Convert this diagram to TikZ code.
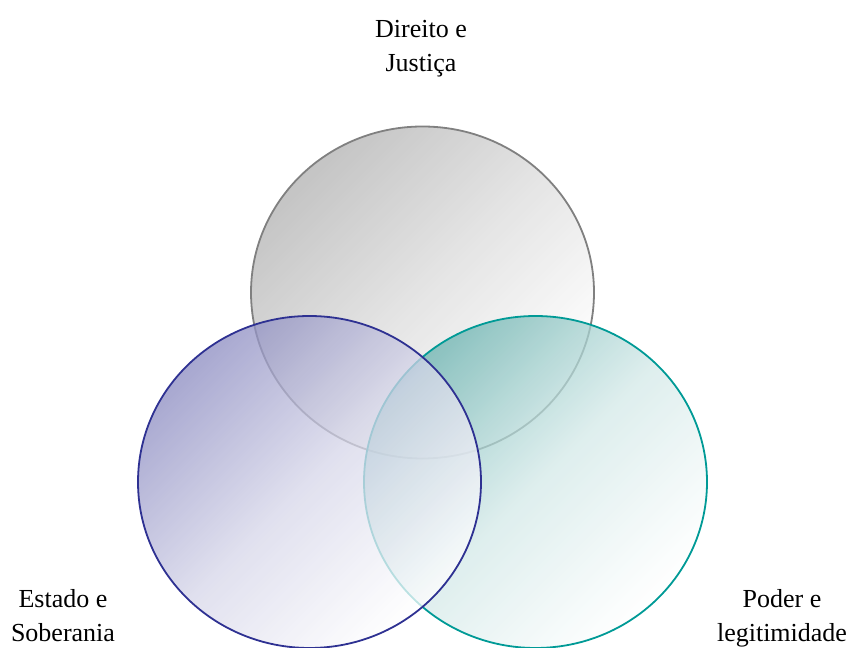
\documentclass[tikz,border=0pt]{standalone}
\usepackage{fontspec}
\setmainfont{Liberation Serif}
\usepackage{tikz}
\usetikzlibrary{shapes.geometric, positioning}
\definecolor{cinzaLinha}{HTML}{808080}
\definecolor{cinzaFundo}{HTML}{B0B0B0}
\definecolor{azulLinha}{HTML}{2E3192}
\definecolor{azulFundo}{HTML}{8A8AC0}
\definecolor{verdeLinha}{HTML}{009A96}
\definecolor{verdeFundo}{HTML}{6AB3B0}
\tikzstyle{anel} = [ellipse, minimum width=343pt, minimum height=332pt, inner sep=0pt, line width=1.8pt, fill opacity=0.75]
\tikzstyle{anel_direito} = [anel, draw=cinzaLinha, top color=cinzaFundo, bottom color=white, middle color=cinzaFundo!45, shading angle=45]
\tikzstyle{anel_poder} = [anel, draw=verdeLinha, top color=verdeFundo, bottom color=white, middle color=verdeFundo!30, shading angle=45]
\tikzstyle{anel_estado} = [anel, draw=azulLinha, top color=azulFundo, bottom color=white, middle color=azulFundo!35, shading angle=45]
\tikzstyle{rotulo} = [align=center, font=\fontsize{26}{34}\selectfont]

\begin{document}
\begin{tikzpicture}[x=1pt, y=1pt, node distance=189.5pt]
    %画布范围
    \useasboundingbox (0,0) rectangle (850,647);

    %定义三个圆
    \node (c_direito) [anel_direito] at (422.5,354.5) {};
    \node (c_poder) [anel_poder, below of=c_direito, xshift=113pt] {};
    \node (c_estado) [anel_estado, below of=c_direito, xshift=-113pt] {};

    %定义标签
    \node (t_direito) [rotulo] at (421,598) {Direito e\\Justiça};
    \node (t_estado) [rotulo] at (63,31) {Estado e\\Soberania};
    \node (t_poder) [rotulo] at (782,29) {Poder e\\legitimidade};
\end{tikzpicture}
\end{document}
